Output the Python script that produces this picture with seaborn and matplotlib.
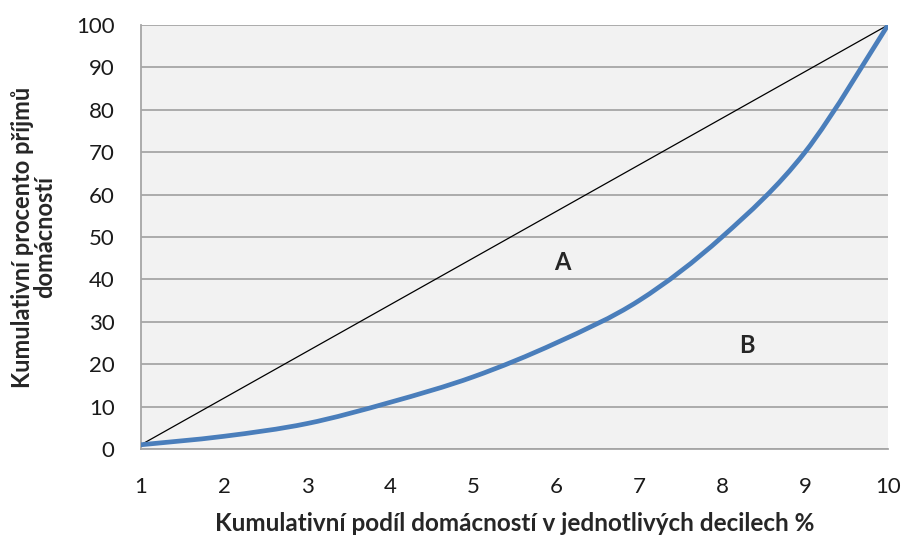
import matplotlib
matplotlib.use("Agg")
import matplotlib.pyplot as plt
import seaborn as sns
import pandas as pd
import numpy as np
from matplotlib.path import Path
from matplotlib.patches import PathPatch

# Data
decily = [1, 2, 3, 4, 5, 6, 7, 8, 9, 10]
lorenz = [1, 3, 6, 11, 17, 25, 35, 50, 70, 100]
rovnost = [1, 12, 23, 34, 45, 56, 67, 78, 89, 100]
y_ticks = [0, 10, 20, 30, 40, 50, 60, 70, 80, 90, 100]

sns.set_style("white")
plt.rcParams['font.family'] = ['Lato', 'DejaVu Sans']

df = pd.DataFrame({'decil': decily, 'lorenz': lorenz, 'rovnost': rovnost})


def smooth_path(xs, ys):
    # Excel-like smoothed line: cubic Bezier through the points (Catmull-Rom)
    pts = np.column_stack([xs, ys]).astype(float)
    verts = [pts[0]]
    codes = [Path.MOVETO]
    n = len(pts)
    for i in range(n - 1):
        p0 = pts[max(i - 1, 0)]
        p1 = pts[i]
        p2 = pts[i + 1]
        p3 = pts[min(i + 2, n - 1)]
        c1 = p1 + (p2 - p0) / 6
        c2 = p2 - (p3 - p1) / 6
        verts += [c1, c2, p2]
        codes += [Path.CURVE4] * 3
    return Path(verts, codes)


fig = plt.figure(figsize=(9.02, 5.38), dpi=100)
ax = fig.add_axes([141 / 902, 1 - 449 / 538, 747 / 902, 424 / 538])
ax.set_facecolor('#f2f2f2')

for yv in y_ticks:
    ax.axhline(yv, color='#a6a6a6', lw=1.3, zorder=1)

sns.lineplot(data=df, x='decil', y='rovnost', color='black', lw=0.9, ax=ax, zorder=3)
ax.add_patch(PathPatch(smooth_path(df['decil'], df['lorenz']), facecolor='none',
                       edgecolor='#4a7ebb', lw=3.4, capstyle='round', zorder=4))

ax.text(6.08, 44, 'A', fontsize=17, fontweight='bold', ha='center', va='center')
ax.text(8.3, 24.5, 'B', fontsize=17, fontweight='bold', ha='center', va='center')

ax.set_xlim(1, 10)
ax.set_ylim(0, 100)
ax.set_xticks(decily)
ax.set_yticks(y_ticks)
ax.tick_params(axis='both', labelsize=16, colors='#a6a6a6', labelcolor='#1a1a1a',
               direction='out', length=6, width=1.3)
ax.tick_params(axis='x', pad=14)
ax.tick_params(axis='y', pad=13)

for side in ['top', 'right']:
    ax.spines[side].set_visible(False)
for side in ['left', 'bottom']:
    ax.spines[side].set_color('#a6a6a6')
    ax.spines[side].set_linewidth(1.3)

ax.set_xlabel('Kumulativní podíl domácností v jednotlivých decilech %',
              fontsize=17.5, fontweight='bold', labelpad=11)
ax.set_ylabel('Kumulativní procento příjmů\ndomácností',
              fontsize=17, fontweight='bold', labelpad=14, linespacing=1.0)

plt.savefig('out.png', dpi=100)
plt.close()
